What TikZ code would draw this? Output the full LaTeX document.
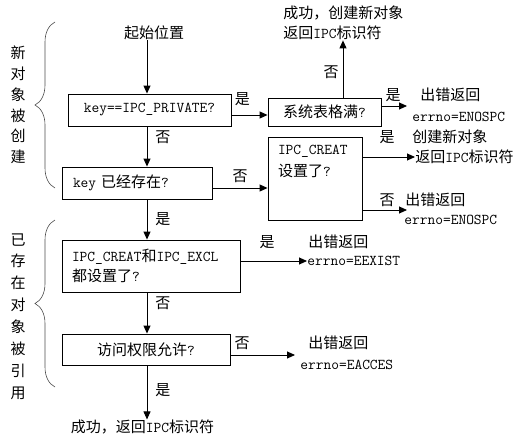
\documentclass[tikz,border=0pt]{standalone}
\usepackage{fontspec}
\newfontfamily\cjk{Noto Sans CJK SC}
\usetikzlibrary{arrows.meta,decorations.pathreplacing}
\newcommand{\zh}[1]{{\cjk\fontsize{15}{20}\selectfont #1}}

\begin{document}
\begin{tikzpicture}[>={Triangle[length=8pt,width=7pt]},x=1pt,y=-1pt,line width=0.9pt,
	every node/.style={inner sep=0pt,font=\ttfamily\fontsize{15}{20}\selectfont},
	box/.style={draw,inner sep=0pt},
	brace/.style={decorate,decoration={brace,amplitude=20pt},line width=0.6pt,black!70}]
	\useasboundingbox (0,0) rectangle (519,439);
	%	\draw[color=gray,dash pattern=on 1pt off 1pt,step=10pt] (0,0) grid (519,439);
	\coordinate (col) at (147,0);
	% main column
	\node (start) at (154,33) {\zh{起始位置}};
	\node[box,minimum width=163,minimum height=32] (b1) at (149.5,110) {key==IPC\_PRIVATE?};
	\node[box,minimum width=150,minimum height=32,text width=128pt,align=left,inner xsep=11pt] (b2) at (137,183) {key \zh{已经存在}?};
	\node[box,minimum width=178,minimum height=52,text width=158pt,align=left,inner xsep=10pt] (b5) at (151,266) {IPC\_CREAT\zh{和}IPC\_EXCL\\\zh{都设置了}?};
	\node[box,minimum width=168,minimum height=31] (b6) at (146,349.5) {\zh{访问权限允许}?};
	\node (done) at (142.5,427) {\zh{成功，返回}IPC\zh{标识符}};
	\draw[->] (start.south -| col) -- (b1.north -| col);
	\draw[->] (b1.south -| col) -- (b2.north -| col) node[pos=.28,right=8pt] {\zh{否}};
	\draw[->] (b2.south -| col) -- (b5.north -| col) node[pos=.5,right=8pt] {\zh{是}};
	\draw[->] (b5.south -| col) -- (b6.north -| col) node[pos=.26,right=8pt] {\zh{否}};
	\draw[->] (b6.south -| col) -- (done.north -| col) node[pos=.45,right=8pt] {\zh{是}};
	% right side
	\node[box,minimum width=113,minimum height=28] (b3) at (324.5,112) {\zh{系统表格满}?};
	\node[box,minimum width=94,minimum height=83] (b4) at (315,178.5) {};
	\node[anchor=north west,align=left,font=\ttfamily\fontsize{15}{22}\selectfont] (b4t) at ([xshift=10pt,yshift=-8pt]b4.north west) {IPC\_CREAT\\\zh{设置了}?};
	\node[anchor=west,align=left] (ok1) at (283,23) {\zh{成功，创建新对象}\\\zh{返回}IPC\zh{标识符}};
	\draw[->] ([yshift=-5pt]b1.east) -- ([yshift=-5pt]b1.east -| b3.west) node[pos=.3,above=9pt] {\zh{是}};
	\draw[->] ([yshift=-5pt]b2.east) -- ([yshift=-5pt]b2.east -| b4.west) node[pos=.5,above=5pt] {\zh{否}};
	\draw[->] ([xshift=18.5pt]b3.north) -- ([xshift=18.5pt]b3.north |- ok1.south) node[pos=.45,left=4pt] {\zh{否}};
	% error outputs
	\node[anchor=west] (e1a) at (420,95) {\zh{出错返回}};
	\node[anchor=west] (e1b) at (412,117) {errno=ENOSPC};
	\node[anchor=west] (c2a) at (412,137) {\zh{创建新对象}};
	\node[anchor=west] (c2b) at (415,157) {\zh{返回}IPC\zh{标识符}};
	\node[anchor=west] (e2a) at (405,200) {\zh{出错返回}};
	\node[anchor=west] (e2b) at (404,220) {errno=ENOSPC};
	\node[anchor=west] (e3a) at (308,242) {\zh{出错返回}};
	\node[anchor=west] (e3b) at (307,261) {errno=EEXIST};
	\node[anchor=west] (e4a) at (308,343) {\zh{出错返回}};
	\node[anchor=west] (e4b) at (300,365) {errno=EACCES};
	\coordinate (t1) at (407,106);
	\coordinate (t2) at (407,210);
	\coordinate (t3) at (295,355);
	\draw[->] (b3.east |- t1) -- (t1);
	\draw (393,95) node {\zh{是}};
	\draw[->] (b4.east |- c2b.west) -- (c2b.west);
	\draw (387,137) node {\zh{是}};
	\draw[->] (b4.east |- t2) -- (t2);
	\draw (387,200) node {\zh{否}};
	\draw[->] (b5.east |- e3b.west) -- (e3b.west);
	\draw (267,242) node {\zh{是}};
	\draw[->] (b6.east |- t3) -- (t3);
	\draw (242,343) node {\zh{否}};
	% group braces
	\draw[brace] (55,188) -- (55,22);
	\draw[brace] (55,387) -- (55,220);
	\node[align=center,font=\cjk\fontsize{15}{20.8}\selectfont] (g1) at (18,105) {新\\对\\象\\被\\创\\建};
	\node[align=center,font=\cjk\fontsize{15}{21.9}\selectfont] (g2) at (18,316.5) {已\\存\\在\\对\\象\\被\\引\\用};
\end{tikzpicture}
\end{document}
